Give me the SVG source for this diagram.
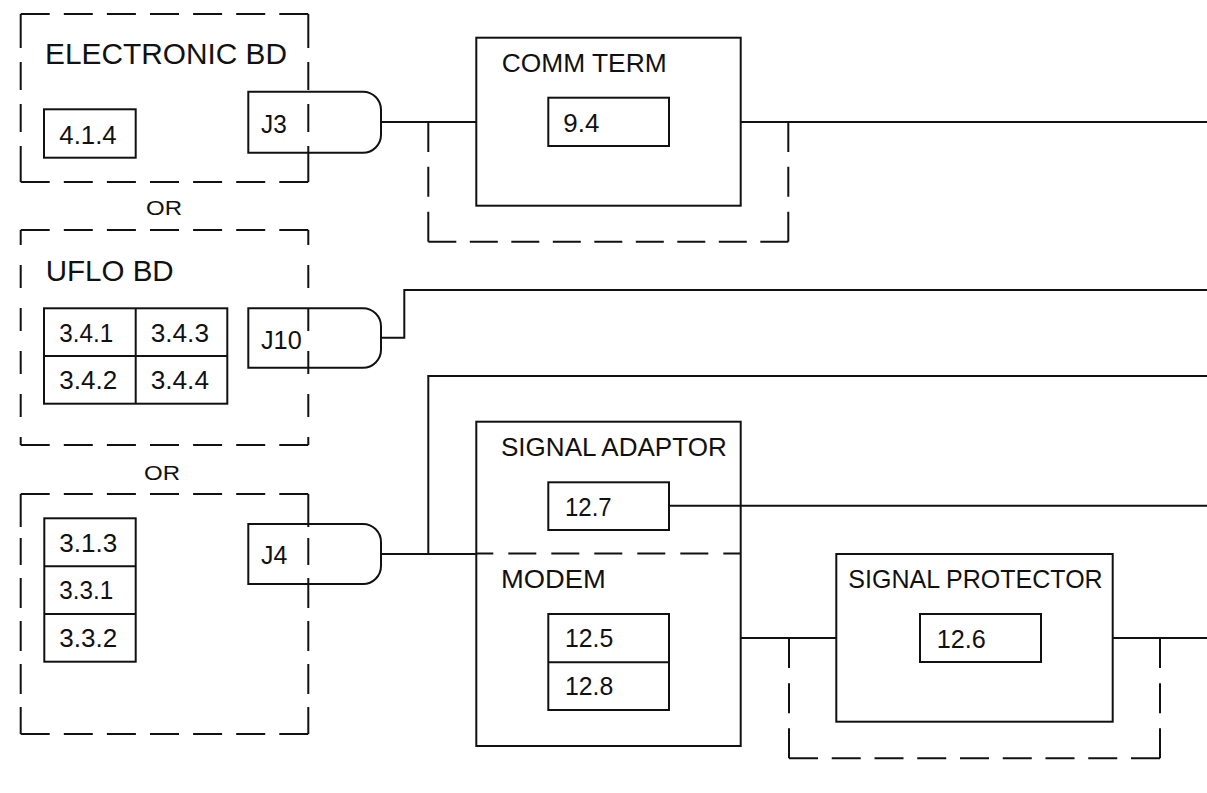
<svg xmlns="http://www.w3.org/2000/svg" width="1207" height="793" viewBox="0 0 1207 793">
<style>
  .bg { fill: #ffffff; }
  .box { fill: none; stroke: #111; stroke-width: 2; }
  .ln { fill: none; stroke: #111; stroke-width: 2; }
  .dash { fill: none; stroke: #111; stroke-width: 2; }
  text { font-family: "Liberation Sans", Arial, sans-serif; fill: #111; }
  .t29 { font-size: 29px; }
  .t26 { font-size: 26px; }
  .t25 { font-size: 25px; }
  .t21 { font-size: 21px; }
</style>
<rect class="bg" x="0" y="0" width="1207" height="793"/>

<g id="electronic-bd">
  <line class="dash" x1="20.7" y1="14" x2="308.3" y2="14" stroke-dasharray="29 14.1"/>
  <line class="dash" x1="20.7" y1="182" x2="308.3" y2="182" stroke-dasharray="29 14.1"/>
  <line class="dash" x1="20.7" y1="14" x2="20.7" y2="182" stroke-dasharray="34 14 28 14 28 14 36"/>
  <line class="dash" x1="308.3" y1="14" x2="308.3" y2="182" stroke-dasharray="34 14 28 14 28 14 36"/>
  <text class="t29" x="45" y="64" textLength="242" lengthAdjust="spacingAndGlyphs">ELECTRONIC BD</text>
  <rect class="box" x="44" y="109.3" width="91.7" height="48.4"/>
  <text class="t25" x="59.3" y="144" textLength="57.4" lengthAdjust="spacingAndGlyphs">4.1.4</text>
</g>

<g id="or-1">
  <text class="t21" x="146" y="215" textLength="36" lengthAdjust="spacingAndGlyphs">OR</text>
</g>

<g id="uflo-bd">
  <line class="dash" x1="20.7" y1="230" x2="308.3" y2="230" stroke-dasharray="29 14.1"/>
  <line class="dash" x1="20.7" y1="445" x2="308.3" y2="445" stroke-dasharray="29 14.1"/>
  <line class="dash" x1="20.7" y1="230" x2="20.7" y2="445" stroke-dasharray="15 20 23 20 23 20 23 20 23 20 10"/>
  <line class="dash" x1="308.3" y1="230" x2="308.3" y2="445" stroke-dasharray="15 20 23 20 23 20 23 20 23 20 10"/>
  <text class="t29" x="45.7" y="281" textLength="128" lengthAdjust="spacingAndGlyphs">UFLO BD</text>
  <rect class="box" x="44" y="308.3" width="183.3" height="95.4"/>
  <line class="ln" x1="135.7" y1="308.3" x2="135.7" y2="403.7"/>
  <line class="ln" x1="44" y1="356" x2="227.3" y2="356"/>
  <text class="t25" x="59.3" y="341.7" textLength="54" lengthAdjust="spacingAndGlyphs">3.4.1</text>
  <text class="t25" x="150.7" y="341.7" textLength="58.3" lengthAdjust="spacingAndGlyphs">3.4.3</text>
  <text class="t25" x="59.3" y="389.3" textLength="58" lengthAdjust="spacingAndGlyphs">3.4.2</text>
  <text class="t25" x="150.7" y="389.3" textLength="58.3" lengthAdjust="spacingAndGlyphs">3.4.4</text>
</g>

<g id="or-2">
  <text class="t21" x="144" y="480" textLength="36" lengthAdjust="spacingAndGlyphs">OR</text>
</g>

<g id="board-3">
  <line class="dash" x1="20.7" y1="494" x2="308.3" y2="494" stroke-dasharray="29 14.1"/>
  <line class="dash" x1="20.7" y1="734" x2="308.3" y2="734" stroke-dasharray="29 14.1"/>
  <line class="dash" x1="20.7" y1="494" x2="20.7" y2="734" stroke-dasharray="33 11 27 13 30 13 30 13 30 13 27"/>
  <line class="dash" x1="308.3" y1="494" x2="308.3" y2="734" stroke-dasharray="33 11 27 13 30 13 30 13 30 13 27"/>
  <rect class="box" x="44.3" y="518.3" width="91.4" height="143.4"/>
  <line class="ln" x1="44.3" y1="566.3" x2="135.7" y2="566.3"/>
  <line class="ln" x1="44.3" y1="614" x2="135.7" y2="614"/>
  <text class="t25" x="59.3" y="551.7" textLength="58" lengthAdjust="spacingAndGlyphs">3.1.3</text>
  <text class="t25" x="59.3" y="599.3" textLength="54" lengthAdjust="spacingAndGlyphs">3.3.1</text>
  <text class="t25" x="59.3" y="647.3" textLength="58" lengthAdjust="spacingAndGlyphs">3.3.2</text>
</g>

<g id="j3">
  <path class="box" d="M248.3,91.7 H363 A18,18 0 0 1 381,109.7 V134.7 A18,18 0 0 1 363,152.7 H248.3 Z"/>
  <text class="t25" x="261" y="132.7" textLength="25.7" lengthAdjust="spacingAndGlyphs">J3</text>
</g>

<g id="j10">
  <path class="box" d="M248.3,308.3 H363 A18,18 0 0 1 381,326.3 V349.7 A18,18 0 0 1 363,367.7 H248.3 Z"/>
  <text class="t25" x="261" y="349" textLength="40.7" lengthAdjust="spacingAndGlyphs">J10</text>
</g>

<g id="j4">
  <path class="box" d="M248.3,524 H363 A18,18 0 0 1 381,542 V566 A18,18 0 0 1 363,584 H248.3 Z"/>
  <text class="t25" x="261" y="564.3" textLength="26.3" lengthAdjust="spacingAndGlyphs">J4</text>
</g>

<g id="comm-term">
  <rect class="box" x="476.3" y="37.7" width="264.4" height="168"/>
  <text class="t26" x="501.7" y="72.3" textLength="165" lengthAdjust="spacingAndGlyphs">COMM TERM</text>
  <rect class="box" x="548.3" y="97.7" width="120.7" height="48.3"/>
  <text class="t25" x="563.3" y="132.3" textLength="36" lengthAdjust="spacingAndGlyphs">9.4</text>
</g>

<g id="signal-adaptor-modem">
  <rect class="box" x="476.3" y="421.7" width="264.4" height="324.3"/>
  <line class="dash" x1="476.3" y1="553.5" x2="740.7" y2="553.5" stroke-dasharray="28 15" stroke-dashoffset="11"/>
  <text class="t26" x="501" y="455.7" textLength="225.7" lengthAdjust="spacingAndGlyphs">SIGNAL ADAPTOR</text>
  <rect class="box" x="548.3" y="482.3" width="120.7" height="47.7"/>
  <text class="t25" x="565" y="516" textLength="46.7" lengthAdjust="spacingAndGlyphs">12.7</text>
  <text class="t26" x="501" y="587.7" textLength="104.7" lengthAdjust="spacingAndGlyphs">MODEM</text>
  <rect class="box" x="548.3" y="614" width="120.7" height="96"/>
  <line class="ln" x1="548.3" y1="662.3" x2="669" y2="662.3"/>
  <text class="t25" x="565" y="647.3" textLength="48.3" lengthAdjust="spacingAndGlyphs">12.5</text>
  <text class="t25" x="565" y="695" textLength="48.3" lengthAdjust="spacingAndGlyphs">12.8</text>
</g>

<g id="signal-protector">
  <rect class="box" x="836.3" y="554" width="276.4" height="167.7"/>
  <text class="t26" x="848.3" y="588.3" textLength="254.4" lengthAdjust="spacingAndGlyphs">SIGNAL PROTECTOR</text>
  <rect class="box" x="920" y="614" width="121" height="48"/>
  <text class="t25" x="936.7" y="648.3" textLength="49" lengthAdjust="spacingAndGlyphs">12.6</text>
</g>

<g id="connectors">
  <path class="ln" d="M381,122 H476.3"/>
  <path class="ln" d="M740.7,122 H1207"/>
  <line class="dash" x1="428.3" y1="122" x2="428.3" y2="241.7" stroke-dasharray="30 14.85"/>
  <line class="dash" x1="428.3" y1="241.7" x2="788.3" y2="241.7" stroke-dasharray="28 13.5"/>
  <line class="dash" x1="788.3" y1="122" x2="788.3" y2="241.7" stroke-dasharray="30 14.85"/>
  <path class="ln" d="M381,337.7 H404.3 V290 H1207"/>
  <path class="ln" d="M381,554 H476.3"/>
  <path class="ln" d="M428.3,554 V376 H1207"/>
  <path class="ln" d="M669,505.7 H1207"/>
  <path class="ln" d="M740.7,638 H836.3"/>
  <path class="ln" d="M1112.7,638 H1207"/>
  <line class="dash" x1="789" y1="638" x2="789" y2="758.3" stroke-dasharray="30 15.15"/>
  <line class="dash" x1="789" y1="758.3" x2="1160" y2="758.3" stroke-dasharray="29 13.75"/>
  <line class="dash" x1="1160" y1="638" x2="1160" y2="758.3" stroke-dasharray="30 15.15"/>
</g>
</svg>
